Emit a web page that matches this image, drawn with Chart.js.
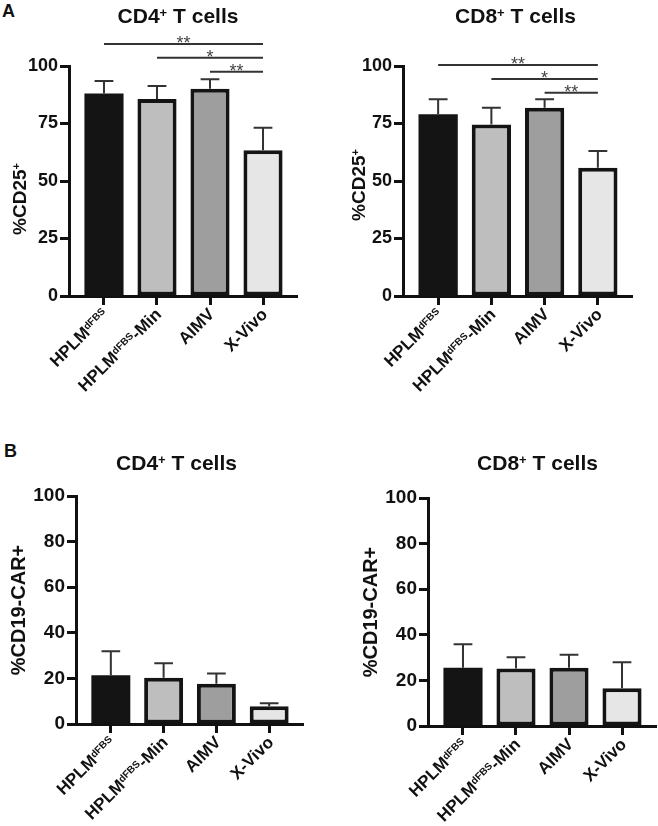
<!DOCTYPE html>
<html>
<head>
<meta charset="utf-8">
<script src="https://cdn.jsdelivr.net/npm/chart.js@4.4.1/dist/chart.umd.min.js"></script>
<style>
  html, body { margin: 0; padding: 0; background: #fff; overflow: hidden; }
  body { width: 658px; height: 826px; position: relative; font-family: "Liberation Sans", Arial, sans-serif; }
  .box { position: absolute; }
  .letter { position: absolute; font-weight: bold; font-size: 18px; line-height: 1; color: #111; }
</style>
</head>
<body>
<div class="letter" style="left:2px;top:2px">A</div>
<div class="letter" style="left:4px;top:442px">B</div>
<div class="box" style="left:0;top:0;width:298px;height:410px"><canvas id="cd25Cd4"></canvas></div>
<div class="box" style="left:340px;top:0;width:293px;height:410px"><canvas id="cd25Cd8"></canvas></div>
<div class="box" style="left:0;top:420px;width:304px;height:406px"><canvas id="carCd4"></canvas></div>
<div class="box" style="left:340px;top:420px;width:317px;height:406px"><canvas id="carCd8"></canvas></div>

<script>
const FONT = "'Liberation Sans', Arial, sans-serif";

// media, "^{...}" is drawn as superscript
const categories = ['HPLM^{dFBS}', 'HPLM^{dFBS}-Min', 'AIMV', 'X-Vivo'];

// %CD25+ (mean, upper SD)
const cd25Cd4Mean = [88.0, 85.7, 90.1, 63.4];
const cd25Cd4Sd   = [5.5, 5.6, 4.1, 9.8];
const cd25Cd8Mean = [79.0, 74.6, 81.9, 55.8];
const cd25Cd8Sd   = [6.5, 7.3, 3.6, 7.2];

// %CD19-CAR+
const carCd4Mean = [21.4, 20.3, 17.7, 7.8];
const carCd4Sd   = [10.5, 6.3, 4.4, 1.3];
const carCd8Mean = [25.6, 25.2, 25.5, 16.6];
const carCd8Sd   = [10.3, 5.0, 5.8, 11.4];

// significance brackets, each one against X-Vivo
const sigFrom = [0, 1, 2];
const sigTo = 3;
const sigStars = ['**', '*', '**'];
const sigCd4Levels = [109.6, 103.6, 97.5];
const sigCd8Levels = [100.4, 94.3, 88.4];

const barColors = ['#141414', '#bebebe', '#9e9e9e', '#e6e6e6'];

Chart.defaults.font.family = FONT;
Chart.defaults.color = '#111';

function richParts(label) {
  const m = label.match(/^(.*?)\^\{(.*?)\}(.*)$/);
  return m ? [m[1], m[2], m[3]] : [label, '', ''];
}

// draws label at the origin, caps centred on y = 0
function drawRich(ctx, label, size, supSize, align) {
  const [a, s, b] = richParts(label);
  const big = `bold ${size}px ${FONT}`;
  const small = `bold ${supSize}px ${FONT}`;
  ctx.font = big;
  const wa = ctx.measureText(a).width;
  const wb = ctx.measureText(b).width;
  ctx.font = small;
  const ws = ctx.measureText(s).width;
  const total = wa + ws + wb;
  const x0 = align === 'right' ? -total : -total / 2;
  const base = size * 0.358;
  ctx.textAlign = 'left';
  ctx.textBaseline = 'alphabetic';
  ctx.font = big;
  ctx.fillText(a, x0, base);
  ctx.font = small;
  ctx.fillText(s, x0 + wa, base - size * 0.716 + supSize * 0.716);
  ctx.font = big;
  ctx.fillText(b, x0 + wa + ws, base);
}

const extras = {
  id: 'extras',
  afterDatasetsDraw(chart, args, o) {
    const { ctx, chartArea } = chart;
    const xs = chart.scales.x, ys = chart.scales.y;
    const ds = chart.data.datasets[0];
    ctx.save();

    // error bars, upper side only
    ctx.strokeStyle = '#333';
    ctx.lineWidth = 2;
    chart.getDatasetMeta(0).data.forEach((bar, i) => {
      const top = ys.getPixelForValue(ds.data[i].y + ds.sd[i]);
      const cap = bar.width * 0.24;
      ctx.beginPath();
      ctx.moveTo(bar.x, bar.y);
      ctx.lineTo(bar.x, top);
      ctx.moveTo(bar.x - cap, top);
      ctx.lineTo(bar.x + cap, top);
      ctx.stroke();
    });

    // significance
    if (o.levels) {
      o.levels.forEach((lv, k) => {
        const yy = ys.getPixelForValue(lv);
        const x1 = xs.getPixelForValue(sigFrom[k]);
        const x2 = xs.getPixelForValue(sigTo);
        ctx.strokeStyle = '#333';
        ctx.lineWidth = 2;
        ctx.beginPath();
        ctx.moveTo(x1, yy);
        ctx.lineTo(x2, yy);
        ctx.stroke();
        ctx.fillStyle = '#444';
        ctx.font = `18px ${FONT}`;
        ctx.textAlign = 'center';
        ctx.textBaseline = 'alphabetic';
        ctx.fillText(sigStars[k], (x1 + x2) / 2, yy + 5);
      });
    }

    // category labels, rotated 45 degrees
    ctx.fillStyle = '#111';
    categories.forEach((lab, i) => {
      ctx.save();
      ctx.translate(xs.getPixelForValue(i) + 1, chartArea.bottom + 15);
      ctx.rotate(-Math.PI / 4);
      drawRich(ctx, lab, 17, 10, 'right');
      ctx.restore();
    });

    // y axis title
    ctx.save();
    ctx.translate(o.titleX, (chartArea.top + chartArea.bottom) / 2 + o.titleShift);
    ctx.rotate(-Math.PI / 2);
    drawRich(ctx, o.yTitle, o.titleSize, 11, 'center');
    ctx.restore();

    // panel title
    ctx.save();
    ctx.translate(o.headX, o.headY);
    drawRich(ctx, o.head, 21, 13, 'center');
    ctx.restore();

    ctx.restore();
  }
};

function makeChart(id, c) {
  return new Chart(document.getElementById(id), {
    type: 'bar',
    data: {
      datasets: [{
        data: c.mean.map((v, i) => ({ x: i, y: v })),
        sd: c.sd,
        backgroundColor: barColors,
        borderColor: '#141414',
        borderWidth: [0, 4, 4, 4],   // first bar is already black
        borderSkipped: false,
        categoryPercentage: 0.82,
        barPercentage: 0.9
      }]
    },
    options: {
      responsive: true,
      maintainAspectRatio: false,
      animation: false,
      layout: { padding: { left: 0, right: 0, top: c.padTop, bottom: 0 } },
      plugins: {
        legend: { display: false },
        tooltip: { enabled: false },
        title: { display: false },
        extras: {
          levels: c.levels, yTitle: c.yTitle, titleX: c.titleX, titleShift: c.titleShift,
          titleSize: c.titleSize, head: c.title, headX: c.headX, headY: c.headY
        }
      },
      scales: {
        x: {
          type: 'linear',
          min: -0.66,
          max: 3.66,
          offset: false,
          afterBuildTicks: s => { s.ticks = categories.map((_, i) => ({ value: i })); },
          afterFit: s => { s.height = c.axisBottom; },
          ticks: { display: false },
          grid: { offset: false, drawOnChartArea: false, tickLength: 9, tickWidth: 3, tickColor: '#111', color: '#111' },
          border: { color: '#111', width: 3 }
        },
        y: {
          min: 0,
          max: 100,
          afterFit: s => { s.width = c.axisLeft; },
          ticks: { stepSize: c.step, color: '#111', padding: 2, font: { size: c.tickSize, weight: 'bold' } },
          grid: { drawOnChartArea: false, tickLength: 9, tickWidth: 3, tickColor: '#111', color: '#111' },
          border: { color: '#111', width: 3 }
        }
      }
    },
    plugins: [extras]
  });
}

makeChart('cd25Cd4', {
  mean: cd25Cd4Mean, sd: cd25Cd4Sd, levels: sigCd4Levels,
  title: 'CD4^{+} T cells', headX: 178, headY: 15,
  yTitle: '%CD25^{+}', step: 25, tickSize: 18,
  padTop: 66, axisLeft: 69, axisBottom: 114,
  titleX: 19, titleShift: 18, titleSize: 19
});
makeChart('cd25Cd8', {
  mean: cd25Cd8Mean, sd: cd25Cd8Sd, levels: sigCd8Levels,
  title: 'CD8^{+} T cells', headX: 175.5, headY: 15,
  yTitle: '%CD25^{+}', step: 25, tickSize: 18,
  padTop: 66, axisLeft: 63, axisBottom: 114,
  titleX: 18, titleShift: 4, titleSize: 19
});
makeChart('carCd4', {
  mean: carCd4Mean, sd: carCd4Sd, levels: null,
  title: 'CD4^{+} T cells', headX: 176.5, headY: 42,
  yTitle: '%CD19-CAR+', step: 20, tickSize: 19,
  padTop: 76, axisLeft: 76, axisBottom: 102,
  titleX: 17.5, titleShift: 0, titleSize: 20
});
makeChart('carCd8', {
  mean: carCd8Mean, sd: carCd8Sd, levels: null,
  title: 'CD8^{+} T cells', headX: 197.5, headY: 42,
  yTitle: '%CD19-CAR+', step: 20, tickSize: 19,
  padTop: 78, axisLeft: 88, axisBottom: 100,
  titleX: 30, titleShift: 0, titleSize: 20
});
</script>
</body>
</html>
